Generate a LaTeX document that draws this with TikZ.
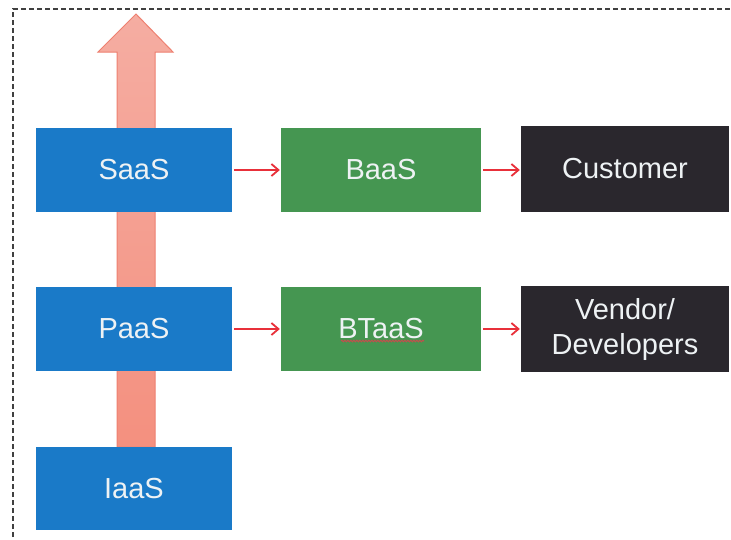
\documentclass[tikz,border=0pt]{standalone}
\usepackage{fontspec}
\setmainfont{Liberation Sans}
\usetikzlibrary{arrows.meta,decorations.pathmorphing}
\definecolor{boxblue}{HTML}{1A7AC8}
\definecolor{boxgreen}{HTML}{459651}
\definecolor{boxdark}{HTML}{2A272D}
\definecolor{lighttext}{HTML}{EEF2F4}
\definecolor{linkred}{HTML}{E8303A}
\definecolor{liftlight}{HTML}{F5ADA2}
\definecolor{liftdeep}{HTML}{F4907F}
\definecolor{liftedge}{HTML}{EE8070}
\definecolor{spellred}{HTML}{C0504D}
\tikzset{
  layer/.style={rectangle, inner sep=0pt, text=lighttext, align=center,
    font=\fontsize{29}{35}\selectfont},
  cloudbox/.style={layer, fill=boxblue, minimum width=196pt, minimum height=84pt},
  chainbox/.style={layer, fill=boxgreen, minimum width=200pt, minimum height=84pt},
  userbox/.style={layer, fill=boxdark, minimum width=208pt, minimum height=86pt},
  link/.style={draw=linkred, line width=1.8pt, -{Straight Barb[length=7pt,width=12pt,line width=1.8pt]}},
}
\begin{document}
\begin{tikzpicture}[x=1pt,y=-1pt]
\useasboundingbox (0,0) rectangle (731,539);
\fill[white] (0,0) rectangle (731,539);
% frame, open to the right and bottom
\draw[draw=black!75, line width=2pt, dash pattern=on 5pt off 3pt]
  (13,545) -- (13,9) -- (740,9);
% upward stack arrow behind the layers
\shade[top color=liftlight, bottom color=liftdeep, draw=liftedge, line width=1pt]
  (117,447) -- (117,52) -- (98,52) -- (136,14) -- (173,52) -- (155,52) -- (155,447) -- cycle;
% service layers
\node[cloudbox] (saas) at (134,170) {SaaS};
\node[cloudbox] (paas) at (134,329) {PaaS};
\node[cloudbox, minimum height=83pt] (iaas) at (134,488.5) {IaaS};
\node[chainbox] (baas) at (381,170) {BaaS};
\node[chainbox] (btaas) at (381,329) {BTaaS};
\node[userbox] (customer) at (625,169) {Customer};
\node[userbox] (vendor) at (625,329) {Vendor/\\Developers};
% spell-check underline under BTaaS
\draw[spellred, line width=1pt, decorate, decoration={snake, amplitude=0.8pt, segment length=3pt}]
  ([xshift=-40pt,yshift=-12pt]btaas.center) -- ([xshift=43pt,yshift=-12pt]btaas.center);
% links
\draw[link] ([xshift=2pt]saas.east) -- ([xshift=-1pt]saas.east -| baas.west);
\draw[link] ([xshift=2pt]baas.east) -- ([xshift=-1pt]baas.east -| customer.west);
\draw[link] ([xshift=2pt]paas.east) -- ([xshift=-1pt]paas.east -| btaas.west);
\draw[link] ([xshift=2pt]btaas.east) -- ([xshift=-1pt]btaas.east -| vendor.west);
\end{tikzpicture}
\end{document}
